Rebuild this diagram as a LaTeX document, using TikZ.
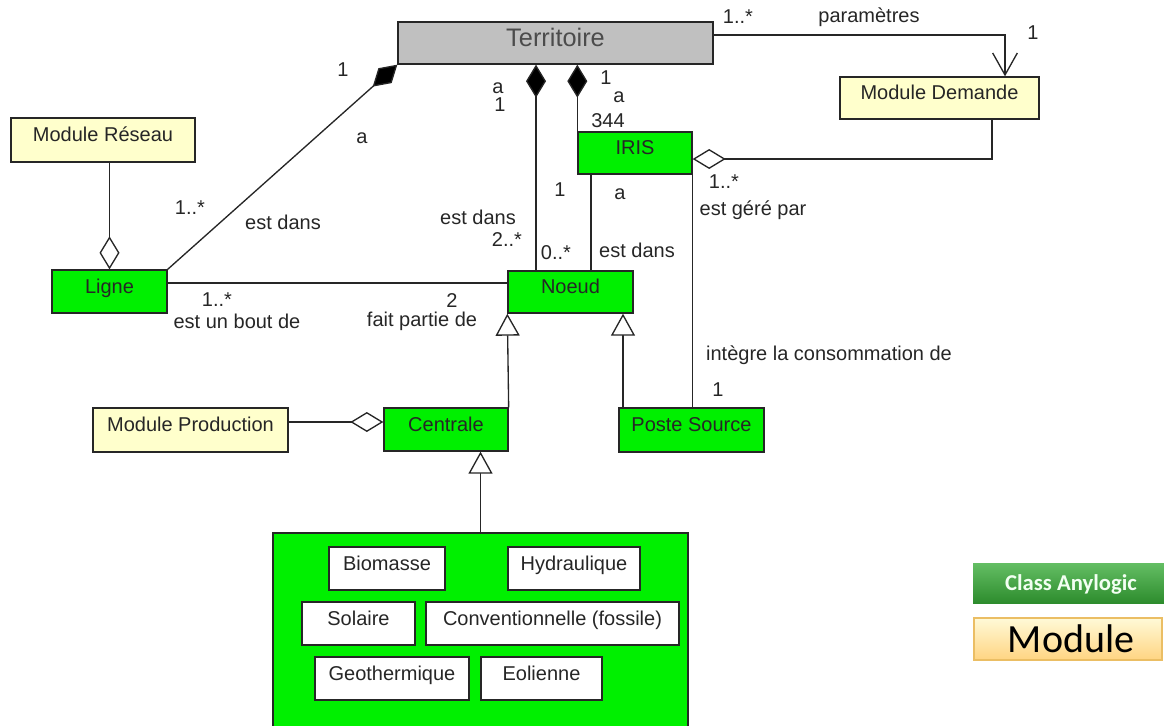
\documentclass[tikz,border=0pt]{standalone}
\usepackage{fontspec}
\setmainfont{Liberation Sans}
\newfontfamily\legendfont{Carlito}
\usetikzlibrary{arrows.meta}
\definecolor{clsgreen}{RGB}{0,240,0}
\definecolor{modyellow}{RGB}{255,255,204}
\definecolor{terrgray}{RGB}{192,192,192}
\begin{document}
\begin{tikzpicture}[x=0.75pt,y=-0.75pt,
  corners/.style args={#1/#2/#3/#4}{minimum width={(#3-#1)*0.75pt}, minimum height={(#4-#2)*0.75pt}, at={({(#1+#3)/2},{(#2+#4)/2})}},
  conn/.style={line width=1pt, draw=black!85},
  umlbox/.style={draw=black!85, line width=1pt, inner sep=0pt, text height=0.7em, text depth=0.45em,
    font=\fontsize{15}{18}\selectfont, text=black!85},
  clsbox/.style={umlbox, fill=clsgreen},
  modbox/.style={umlbox, fill=modyellow},
  subbox/.style={umlbox, fill=white},
  lbl/.style={font=\fontsize{15}{18}\selectfont, inner sep=0pt, text=black!85},
  fdiam/.style={-{Diamond[length=24.75pt,width=15pt,fill=black]}},
  odiam/.style={-{Diamond[length=24.75pt,width=15pt,fill=white]}},
  gen/.style={-{Triangle[length=16.5pt,width=18pt,fill=white]}},
  nav/.style={-{Straight Barb[length=16.5pt,width=18.5pt]}}]
\useasboundingbox (0,0) rectangle (1164,725);

% classes
\node[umlbox, fill=terrgray, corners=398/22/713/64, font=\fontsize{19}{22}\selectfont, text=black!70, text depth=0.12em] (terr) {Territoire};
\node[modbox, corners=840/77/1039/119] (md) {Module Demande};
\node[modbox, corners=11/118/195/162] (mr) {Module Réseau};
\node[clsbox, corners=52/270/167/313] (lg) {Ligne};
\node[clsbox, corners=508/271/633/313] (nd) {Noeud};
\node[clsbox, corners=578/132/692/174] (iris) {IRIS};
\node[clsbox, corners=619/408/764/452] (ps) {Poste Source};
\node[clsbox, corners=384/408/508/451] (ce) {Centrale};
\node[modbox, corners=93/408/288/452] (mp) {Module Production};
\node[clsbox, corners=273/533/688/730] (big) {};
\node[subbox, corners=329/547/445/590] (bio) {Biomasse};
\node[subbox, corners=508/547/640/590] (hyd) {Hydraulique};
\node[subbox, corners=302/602/415/645] (sol) {Solaire};
\node[subbox, corners=426/602/679/645] (conv) {Conventionnelle (fossile)};
\node[subbox, corners=315/657/469/700] (geo) {Geothermique};
\node[subbox, corners=481/657/602/700] (eol) {Eolienne};

% connectors
\draw[conn, nav] (terr.east |- 0,35) -| (md.north -| 1005,0);
\draw[conn, odiam] (mr.south -| lg.north) -- (lg.north);
\draw[conn, fdiam] (lg.north east) -- (terr.south west);
\draw[conn] (lg.east |- 0,283) -- (nd.west |- 0,283);
\draw[conn, fdiam] (nd.north -| 536,0) -- (terr.south -| 536,0);
\draw[conn, fdiam] (iris.north west) -- (terr.south -| iris.north west);
\draw[conn] (iris.south -| 591,0) -- (nd.north -| 591,0);
\draw[conn, odiam] (md.south -| 992,0) |- (iris.east |- 0,159);
\draw[conn] (iris.south east) -- (ps.north -| iris.south east);
\draw[conn, gen] (ps.north -| 623,0) -- (nd.south -| 623,0);
\draw[conn, gen] (ce.north east) -- (nd.south west);
\draw[conn, odiam] (mp.east |- 0,422) -- (ce.west |- 0,422);
\draw[conn, gen] (big.north) -- (ce.south -| big.north);

% labels
\node[lbl] (l1) at (738,17) {1..*};
\node[lbl] (l2) at (869,17) {paramètres};
\node[lbl] (l3) at (1033,33) {1};
\node[lbl] (l4) at (343,70) {1};
\node[lbl] (l5) at (362,138) {a};
\node[lbl] (l6) at (190,208) {1..*};
\node[lbl] (l7) at (283,222) {est dans};
\node[lbl] (l8) at (217,300) {1..*};
\node[lbl] (l9) at (237,321) {est un bout de};
\node[lbl] (l10) at (422,321) {fait partie de};
\node[lbl] (l11) at (452,301) {2};
\node[lbl] (l12) at (498,88) {a};
\node[lbl] (l13) at (500,105) {1};
\node[lbl] (l14) at (606,78) {1};
\node[lbl] (l15) at (619,97) {a};
\node[lbl] (l16) at (608,121) {344};
\node[lbl] (l17) at (560,190) {1};
\node[lbl] (l18) at (620,194) {a};
\node[lbl] (l19) at (478,217) {est dans};
\node[lbl] (l20) at (507,240) {2..*};
\node[lbl] (l21) at (556,253) {0..*};
\node[lbl] (l22) at (637,250) {est dans};
\node[lbl] (l23) at (724,182) {1..*};
\node[lbl] (l24) at (753,210) {est géré par};
\node[lbl] (l25) at (829,355) {intègre la consommation de};
\node[lbl] (l26) at (718,390) {1};

% legend
\node[corners=973/563/1168/603, inner sep=0pt, top color={rgb,255:red,100;green,190;blue,100}, bottom color={rgb,255:red,45;green,140;blue,45}] (legA) {};
\node[font=\legendfont\bfseries\fontsize{17}{20}\selectfont, text=white!95!green, inner sep=0pt] (legAt) at (1071,584) {Class Anylogic};
\node[corners=974/618/1162/660, inner sep=0pt, draw={rgb,255:red,235;green,190;blue,100}, line width=0.8pt, top color={rgb,255:red,255;green,250;blue,215}, bottom color={rgb,255:red,255;green,212;blue,130}] (legB) {};
\node[font=\legendfont\fontsize{30}{34}\selectfont, text=black, inner sep=0pt] (legBt) at (1071,639) {Module};
\end{tikzpicture}
\end{document}
